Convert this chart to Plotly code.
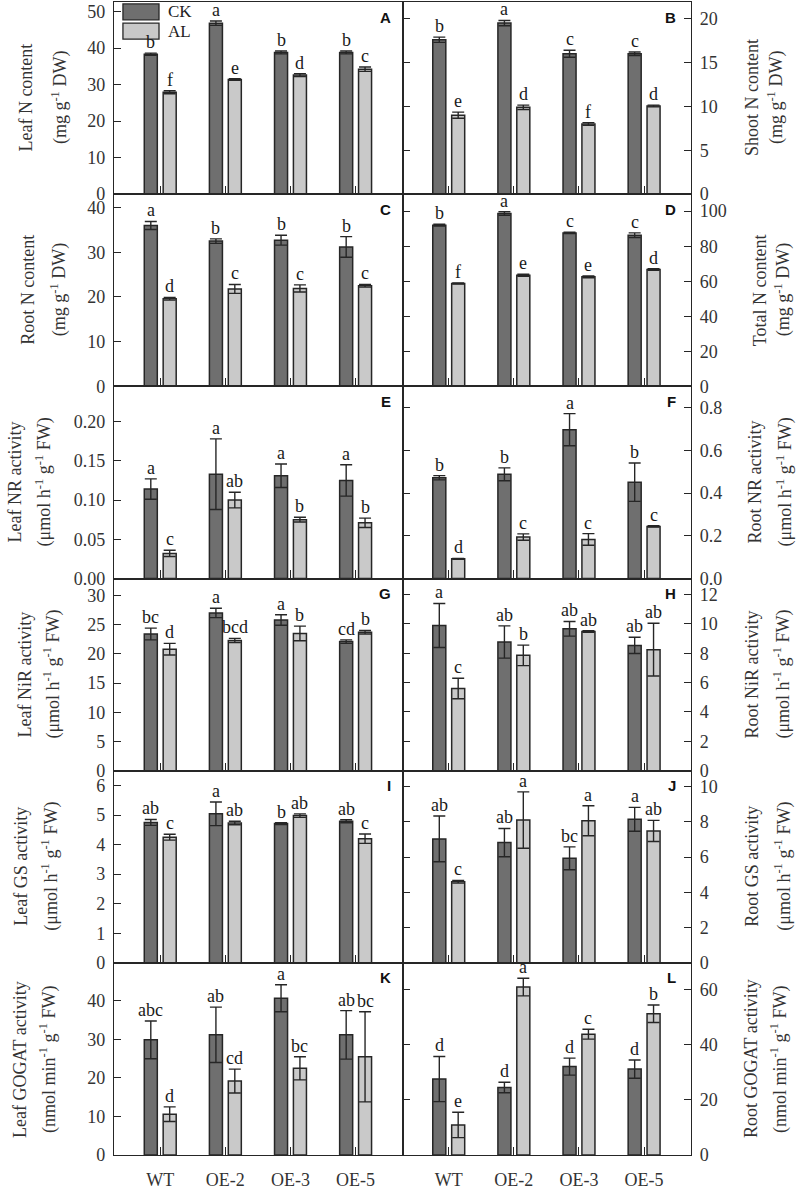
import plotly.graph_objects as go
from plotly.subplots import make_subplots

lines = ["WT", "OE-2", "OE-3", "OE-5"]

# A Leaf N content
leafN_ck = [38.3, 46.8, 38.8, 38.8]
leafN_ck_err = [0.3, 0.6, 0.4, 0.4]
leafN_al = [27.9, 31.4, 32.6, 34.2]
leafN_al_err = [0.4, 0.2, 0.4, 0.6]
leafN_ck_sig = ["b", "a", "b", "b"]
leafN_al_sig = ["f", "e", "d", "c"]
# B Shoot N content
shootN_ck = [17.6, 19.5, 16.0, 16.0]
shootN_ck_err = [0.3, 0.3, 0.4, 0.2]
shootN_al = [9.0, 9.9, 8.0, 10.05]
shootN_al_err = [0.35, 0.25, 0.15, 0.1]
shootN_ck_sig = ["b", "a", "c", "c"]
shootN_al_sig = ["e", "d", "f", "d"]
# C Root N content
rootN_ck = [36.0, 32.5, 32.7, 31.2]
rootN_ck_err = [0.9, 0.5, 1.1, 2.3]
rootN_al = [19.6, 21.8, 21.9, 22.5]
rootN_al_err = [0.3, 1.0, 0.8, 0.3]
rootN_ck_sig = ["a", "b", "b", "b"]
rootN_al_sig = ["d", "c", "c", "c"]
# D Total N content
totN_ck = [92.0, 98.7, 87.6, 86.3]
totN_ck_err = [0.5, 1.0, 0.4, 1.3]
totN_al = [58.7, 63.4, 62.5, 66.7]
totN_al_err = [0.3, 0.6, 0.5, 0.5]
totN_ck_sig = ["b", "a", "c", "c"]
totN_al_sig = ["f", "e", "e", "d"]
# E Leaf NR activity
leafNR_ck = [0.114, 0.133, 0.131, 0.125]
leafNR_ck_err = [0.013, 0.045, 0.015, 0.02]
leafNR_al = [0.032, 0.100, 0.075, 0.071]
leafNR_al_err = [0.004, 0.010, 0.003, 0.006]
leafNR_ck_sig = ["a", "a", "a", "a"]
leafNR_al_sig = ["c", "ab", "b", "b"]
# F Root NR activity
rootNR_ck = [0.472, 0.488, 0.697, 0.451]
rootNR_ck_err = [0.01, 0.03, 0.075, 0.09]
rootNR_al = [0.092, 0.194, 0.183, 0.244]
rootNR_al_err = [0.002, 0.015, 0.027, 0.003]
rootNR_ck_sig = ["b", "b", "a", "b"]
rootNR_al_sig = ["d", "c", "c", "c"]
# G Leaf NiR activity
leafNiR_ck = [23.4, 27.0, 25.8, 22.1]
leafNiR_ck_err = [1.0, 0.8, 0.9, 0.3]
leafNiR_al = [20.8, 22.3, 23.5, 23.7]
leafNiR_al_err = [1.0, 0.35, 1.25, 0.3]
leafNiR_ck_sig = ["bc", "a", "a", "cd"]
leafNiR_al_sig = ["d", "bcd", "b", "b"]
# H Root NiR activity
rootNiR_ck = [9.9, 8.77, 9.67, 8.54]
rootNiR_ck_err = [1.5, 1.1, 0.5, 0.55]
rootNiR_al = [5.6, 7.86, 9.49, 8.25]
rootNiR_al_err = [0.7, 0.7, 0.05, 1.8]
rootNiR_ck_sig = ["a", "ab", "ab", "ab"]
rootNiR_al_sig = ["c", "b", "ab", "ab"]
# I Leaf GS activity
leafGS_ck = [4.75, 5.04, 4.71, 4.79]
leafGS_ck_err = [0.1, 0.4, 0.03, 0.05]
leafGS_al = [4.25, 4.73, 4.98, 4.2]
leafGS_al_err = [0.1, 0.06, 0.06, 0.16]
leafGS_ck_sig = ["ab", "a", "b", "ab"]
leafGS_al_sig = ["c", "ab", "ab", "c"]
# J Root GS activity
rootGS_ck = [7.03, 6.82, 5.93, 8.14]
rootGS_ck_err = [1.3, 0.8, 0.65, 0.68]
rootGS_al = [4.6, 8.1, 8.06, 7.48]
rootGS_al_err = [0.08, 1.6, 0.85, 0.6]
rootGS_ck_sig = ["ab", "ab", "bc", "a"]
rootGS_al_sig = ["c", "a", "a", "ab"]
# K Leaf GOGAT activity
leafGOGAT_ck = [29.9, 31.2, 40.7, 31.2]
leafGOGAT_ck_err = [4.9, 7.2, 3.5, 6.3]
leafGOGAT_al = [10.6, 19.2, 22.5, 25.5]
leafGOGAT_al_err = [1.9, 3.1, 3.0, 11.7]
leafGOGAT_ck_sig = ["abc", "ab", "a", "ab"]
leafGOGAT_al_sig = ["d", "cd", "bc", "bc"]
# L Root GOGAT activity
rootGOGAT_ck = [27.6, 24.5, 32.1, 31.2]
rootGOGAT_ck_err = [8.2, 1.9, 3.1, 3.3]
rootGOGAT_al = [10.9, 61.0, 43.9, 51.3]
rootGOGAT_al_err = [4.6, 3.2, 1.8, 3.2]
rootGOGAT_ck_sig = ["d", "d", "d", "d"]
rootGOGAT_al_sig = ["e", "a", "c", "b"]

U_MG = "(mg g<sup>-1</sup> DW)"
U_UMOL = "(\u03bcmol h<sup>-1</sup> g<sup>-1</sup> FW)"
U_NMOL = "(nmol min<sup>-1</sup> g<sup>-1</sup> FW)"

panels = [
    dict(tag="A", ck=leafN_ck, cke=leafN_ck_err, al=leafN_al, ale=leafN_al_err, cks=leafN_ck_sig, als=leafN_al_sig,
         t1="Leaf N content", t2=U_MG, rng=[0, 52.6], dt=10, fmt="d", tx=(26.5, 60)),
    dict(tag="B", ck=shootN_ck, cke=shootN_ck_err, al=shootN_al, ale=shootN_al_err, cks=shootN_ck_sig, als=shootN_al_sig,
         t1="Shoot N content", t2=U_MG, rng=[0, 21.9], dt=5, fmt="d", tx=(752, 776)),
    dict(tag="C", ck=rootN_ck, cke=rootN_ck_err, al=rootN_al, ale=rootN_al_err, cks=rootN_ck_sig, als=rootN_al_sig,
         t1="Root N content", t2=U_MG, rng=[0, 43], dt=10, fmt="d", tx=(28.5, 59)),
    dict(tag="D", ck=totN_ck, cke=totN_ck_err, al=totN_al, ale=totN_al_err, cks=totN_ck_sig, als=totN_al_sig,
         t1="Total N content", t2=U_MG, rng=[0, 109.7], dt=20, fmt="d", tx=(760, 783)),
    dict(tag="E", ck=leafNR_ck, cke=leafNR_ck_err, al=leafNR_al, ale=leafNR_al_err, cks=leafNR_ck_sig, als=leafNR_al_sig,
         t1="Leaf NR activity", t2=U_UMOL, rng=[0, 0.245], dt=0.05, fmt=".2f", tx=(15, 44)),
    dict(tag="F", ck=rootNR_ck, cke=rootNR_ck_err, al=rootNR_al, ale=rootNR_al_err, cks=rootNR_ck_sig, als=rootNR_al_sig,
         t1="Root NR activity", t2=U_UMOL, rng=[0, 0.9], dt=0.2, fmt=".1f", tx=(755, 785)),
    dict(tag="G", ck=leafNiR_ck, cke=leafNiR_ck_err, al=leafNiR_al, ale=leafNiR_al_err, cks=leafNiR_ck_sig, als=leafNiR_al_sig,
         t1="Leaf NiR activity", t2=U_UMOL, rng=[0, 32.9], dt=5, fmt="d", tx=(25, 52)),
    dict(tag="H", ck=rootNiR_ck, cke=rootNiR_ck_err, al=rootNiR_al, ale=rootNiR_al_err, cks=rootNiR_ck_sig, als=rootNiR_al_sig,
         t1="Root NiR activity", t2=U_UMOL, rng=[0, 13.1], dt=2, fmt="d", tx=(752, 782)),
    dict(tag="I", ck=leafGS_ck, cke=leafGS_ck_err, al=leafGS_al, ale=leafGS_al_err, cks=leafGS_ck_sig, als=leafGS_al_sig,
         t1="Leaf GS activity", t2=U_UMOL, rng=[0, 6.5], dt=1, fmt="d", tx=(21, 50)),
    dict(tag="J", ck=rootGS_ck, cke=rootGS_ck_err, al=rootGS_al, ale=rootGS_al_err, cks=rootGS_ck_sig, als=rootGS_al_sig,
         t1="Root GS activity", t2=U_UMOL, rng=[0, 10.9], dt=2, fmt="d", tx=(752, 783)),
    dict(tag="K", ck=leafGOGAT_ck, cke=leafGOGAT_ck_err, al=leafGOGAT_al, ale=leafGOGAT_al_err, cks=leafGOGAT_ck_sig, als=leafGOGAT_al_sig,
         t1="Leaf GOGAT activity", t2=U_NMOL, rng=[0, 49.9], dt=10, fmt="d", tx=(20, 48)),
    dict(tag="L", ck=rootGOGAT_ck, cke=rootGOGAT_ck_err, al=rootGOGAT_al, ale=rootGOGAT_al_err, cks=rootGOGAT_ck_sig, als=rootGOGAT_al_sig,
         t1="Root GOGAT activity", t2=U_NMOL, rng=[0, 69.8], dt=20, fmt="d", tx=(751, 779)),
]

W, H = 800, 1189
ML, MR, MT, MB = 114, 109, 2, 34
PW = W - ML - MR

CK_COLOR = "#6f6f6f"
AL_COLOR = "#c9c9c9"
EDGE = "#262626"
FONT = "Liberation Serif"
FS = 18

BARGAP = 0.42
GROUPGAP = 0.31
off = (1 - BARGAP) / 4

fig = make_subplots(rows=6, cols=2, horizontal_spacing=0, vertical_spacing=0)
x_idx = list(range(len(lines)))

annotations = []
for k, p in enumerate(panels):
    r, c = k // 2 + 1, k % 2 + 1
    idx = k + 1
    sfx = "" if idx == 1 else str(idx)
    for vals, errs, col, name in ((p["ck"], p["cke"], CK_COLOR, "CK"), (p["al"], p["ale"], AL_COLOR, "AL")):
        fig.add_trace(go.Bar(
            x=x_idx, y=vals, name=name, showlegend=False,
            marker=dict(color=col, line=dict(color=EDGE, width=1.5)),
            error_y=dict(type="data", array=errs, visible=True, color=EDGE, thickness=1.4, width=6),
        ), row=r, col=c)
    # significance letters
    for j in x_idx:
        for vals, errs, sig, sgn in ((p["ck"], p["cke"], p["cks"], -1), (p["al"], p["ale"], p["als"], 1)):
            annotations.append(dict(
                x=j + sgn * off, y=vals[j] + errs[j], xref="x" + sfx, yref="y" + sfx,
                text=sig[j], showarrow=False, xanchor="center", yanchor="bottom", yshift=-1,
                font=dict(family=FONT, size=FS, color="#1a1a1a"),
            ))
    # panel tag
    annotations.append(dict(
        x=1, y=1, xref=f"x{sfx} domain", yref=f"y{sfx} domain",
        xshift=-10 if c == 1 else -13, yshift=-15,
        text=f"<b>{p['tag']}</b>", showarrow=False, xanchor="right", yanchor="middle",
        font=dict(family="Liberation Sans", size=15, color="#111"),
    ))
    # axis titles (two lines)
    for line_txt, px in ((p["t1"], p["tx"][0]), (p["t2"], p["tx"][1])):
        annotations.append(dict(
            x=(px - ML) / PW, y=0.5, xref="paper", yref=f"y{sfx} domain",
            text=line_txt, textangle=-90, showarrow=False, xanchor="center", yanchor="middle",
            font=dict(family=FONT, size=FS, color="#333"),
        ))

    fig.update_yaxes(
        row=r, col=c, range=p["rng"], dtick=p["dt"], tick0=0, tickformat=p["fmt"],
        side="left" if c == 1 else "right",
        showline=True, linecolor=EDGE, linewidth=1.3,
        mirror=True if c == 1 else "ticks",
        ticks="inside", ticklen=7, tickcolor=EDGE, tickwidth=1.2,
        showgrid=False, zeroline=False, automargin=False,
        tickfont=dict(family=FONT, size=FS, color="#333"),
        ticklabelstandoff=4,
    )
    fig.update_xaxes(
        row=r, col=c, range=[-0.71, 3.72], tickmode="array", tickvals=x_idx, ticktext=lines,
        showticklabels=(r == 6),
        showline=True, linecolor=EDGE, linewidth=1.3, mirror=True,
        ticks="inside", ticklen=8, tickcolor=EDGE, tickwidth=1.2,
        showgrid=False, zeroline=False, automargin=False,
        tickfont=dict(family=FONT, size=FS, color="#333"),
        ticklabelstandoff=8,
    )

# legend in panel A
shapes = []
for i, (name, col) in enumerate((("CK", CK_COLOR), ("AL", AL_COLOR))):
    y1 = 0.99 - i * 0.1
    y0 = y1 - 0.083
    shapes.append(dict(type="rect", xref="x domain", yref="y domain", x0=0.031, x1=0.156, y0=y0, y1=y1,
                       fillcolor=col, line=dict(color=EDGE, width=1.3)))
    annotations.append(dict(x=0.18, y=(y0 + y1) / 2, xref="x domain", yref="y domain", text=name,
                            showarrow=False, xanchor="left", yanchor="middle",
                            font=dict(family=FONT, size=FS - 1, color="#222")))

fig.update_layout(
    width=W, height=H, template="none",
    margin=dict(l=ML, r=MR, t=MT, b=MB),
    barmode="group", bargap=BARGAP, bargroupgap=GROUPGAP,
    plot_bgcolor="white", paper_bgcolor="white",
    annotations=annotations, shapes=shapes,
    showlegend=False,
)
fig.write_html("out.html", config={"displayModeBar": False},
               post_script="document.body.style.margin='0';")
